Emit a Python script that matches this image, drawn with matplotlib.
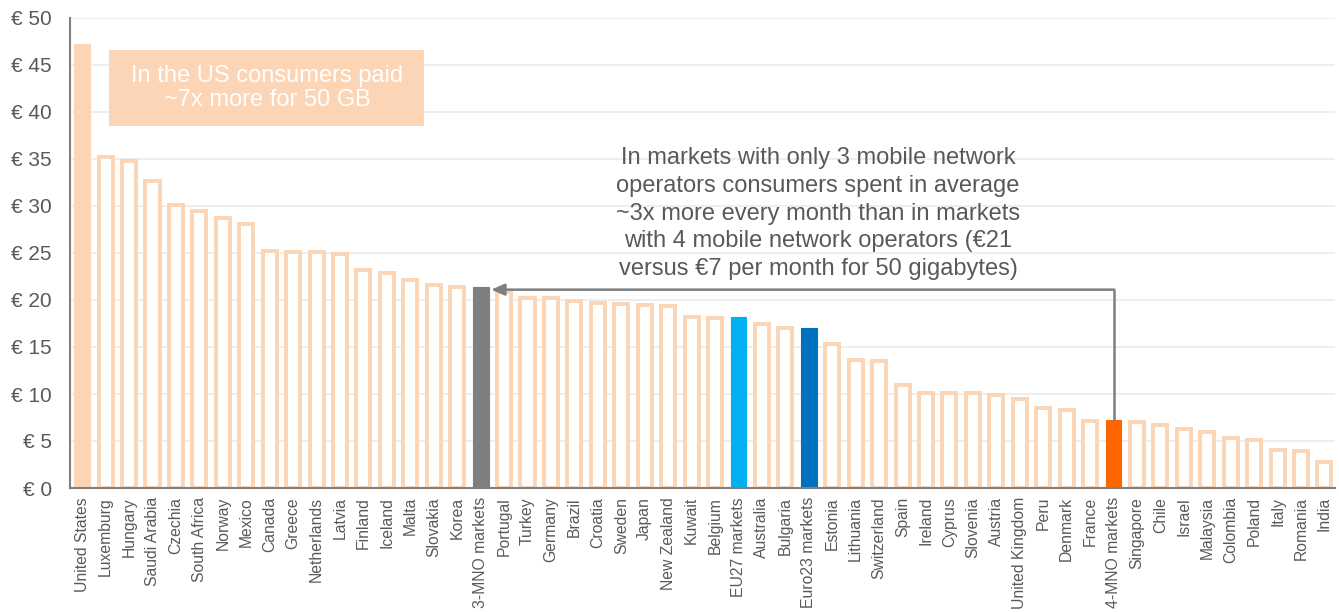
import matplotlib
matplotlib.use("Agg")
import matplotlib.pyplot as plt
from matplotlib.patches import Rectangle

plt.rcParams['font.family'] = ['Liberation Sans', 'DejaVu Sans']

categories = ["United States", "Luxemburg", "Hungary", "Saudi Arabia", "Czechia", "South Africa",
              "Norway", "Mexico", "Canada", "Greece", "Netherlands", "Latvia", "Finland", "Iceland",
              "Malta", "Slovakia", "Korea", "3-MNO markets", "Portugal", "Turkey", "Germany", "Brazil",
              "Croatia", "Sweden", "Japan", "New Zealand", "Kuwait", "Belgium", "EU27 markets",
              "Australia", "Bulgaria", "Euro23 markets", "Estonia", "Lithuania", "Switzerland", "Spain",
              "Ireland", "Cyprus", "Slovenia", "Austria", "United Kingdom", "Peru", "Denmark", "France",
              "4-MNO markets", "Singapore", "Chile", "Israel", "Malaysia", "Colombia", "Poland", "Italy",
              "Romania", "India"]
values = [47.2, 35.2, 34.8, 32.7, 30.1, 29.5, 28.7, 28.1, 25.2, 25.1, 25.1, 24.9, 23.2, 22.9,
          22.1, 21.6, 21.4, 21.4, 20.9, 20.2, 20.2, 19.9, 19.7, 19.6, 19.5, 19.4, 18.2, 18.1, 18.2,
          17.4, 17.0, 17.0, 15.3, 13.6, 13.5, 11.0, 10.1, 10.1, 10.1, 9.9, 9.5, 8.5, 8.3, 7.1,
          7.2, 7.0, 6.7, 6.3, 5.95, 5.35, 5.1, 4.05, 3.9, 2.8]
highlight = {"United States": "#FBD5B5", "3-MNO markets": "#7F7F7F", "EU27 markets": "#00B0F0",
             "Euro23 markets": "#0070C0", "4-MNO markets": "#FF6600"}
yticks = [0, 5, 10, 15, 20, 25, 30, 35, 40, 45, 50]

peach = "#FBD5B5"
grey = "#7F7F7F"
text_col = "#595959"

fig = plt.figure(figsize=(13.39, 6.12), dpi=100)
ax = fig.add_axes([70/1339, (612-488)/612, (1335-70)/1339, (488-18)/612])

x = list(range(len(categories)))
for i, (c, v) in enumerate(zip(categories, values)):
    if c in highlight:
        ax.bar(i, v, width=0.68, color=highlight[c], edgecolor=highlight[c], linewidth=0.8, zorder=3)
    else:
        ax.bar(i, v, width=0.6, facecolor="white", edgecolor=peach, linewidth=2.8, zorder=3)

ax.set_xlim(-0.52, len(categories) - 0.55)
ax.set_ylim(0, 50)
ax.set_yticks(yticks)
ax.set_yticklabels([f"€ {t}" for t in yticks], fontsize=15, color=text_col)
ax.set_xticks(x)
ax.set_xticklabels(categories, rotation=90, fontsize=11.3, color=text_col)
ax.tick_params(axis='y', length=0, pad=13)
ax.tick_params(axis='x', length=0, pad=6.5)
ax.grid(axis='y', color="#EBEBEB", linewidth=1.2, zorder=0)
ax.set_axisbelow(True)
for s in ["top", "right"]:
    ax.spines[s].set_visible(False)
for s in ["left", "bottom"]:
    ax.spines[s].set_color("#808080")
    ax.spines[s].set_linewidth(1.5)
    ax.spines[s].set_zorder(4)

# US annotation box
ax.add_patch(Rectangle((1.15, 38.5), 13.45, 8.1, facecolor=peach, edgecolor="none", zorder=5))
ax.text(7.88, 42.55, "In the US consumers paid\n~7x more for 50 GB", ha="center", va="center",
        fontsize=17, color="white", linespacing=1.12, zorder=6)

# arrow from 4-MNO to 3-MNO
i3 = categories.index("3-MNO markets")
i4 = categories.index("4-MNO markets")
ya = 21.1
ax.plot([i4, i4], [values[i4], ya], color=grey, linewidth=1.8, zorder=5, solid_capstyle="butt")
ax.annotate("", xy=(i3 + 0.45, ya), xytext=(i4 + 0.04, ya),
            arrowprops=dict(arrowstyle="-|>,head_length=0.8,head_width=0.35", color=grey, lw=1.8,
                            shrinkA=0, shrinkB=0), zorder=5)
ax.text(31.4, 29.2, "In markets with only 3 mobile network\noperators consumers spent in average\n"
        "~3x more every month than in markets\nwith 4 mobile network operators (€21\n"
        "versus €7 per month for 50 gigabytes)", ha="center", va="center", fontsize=17,
        color=text_col, linespacing=1.34, zorder=5)

fig.savefig("out.png", dpi=100)
